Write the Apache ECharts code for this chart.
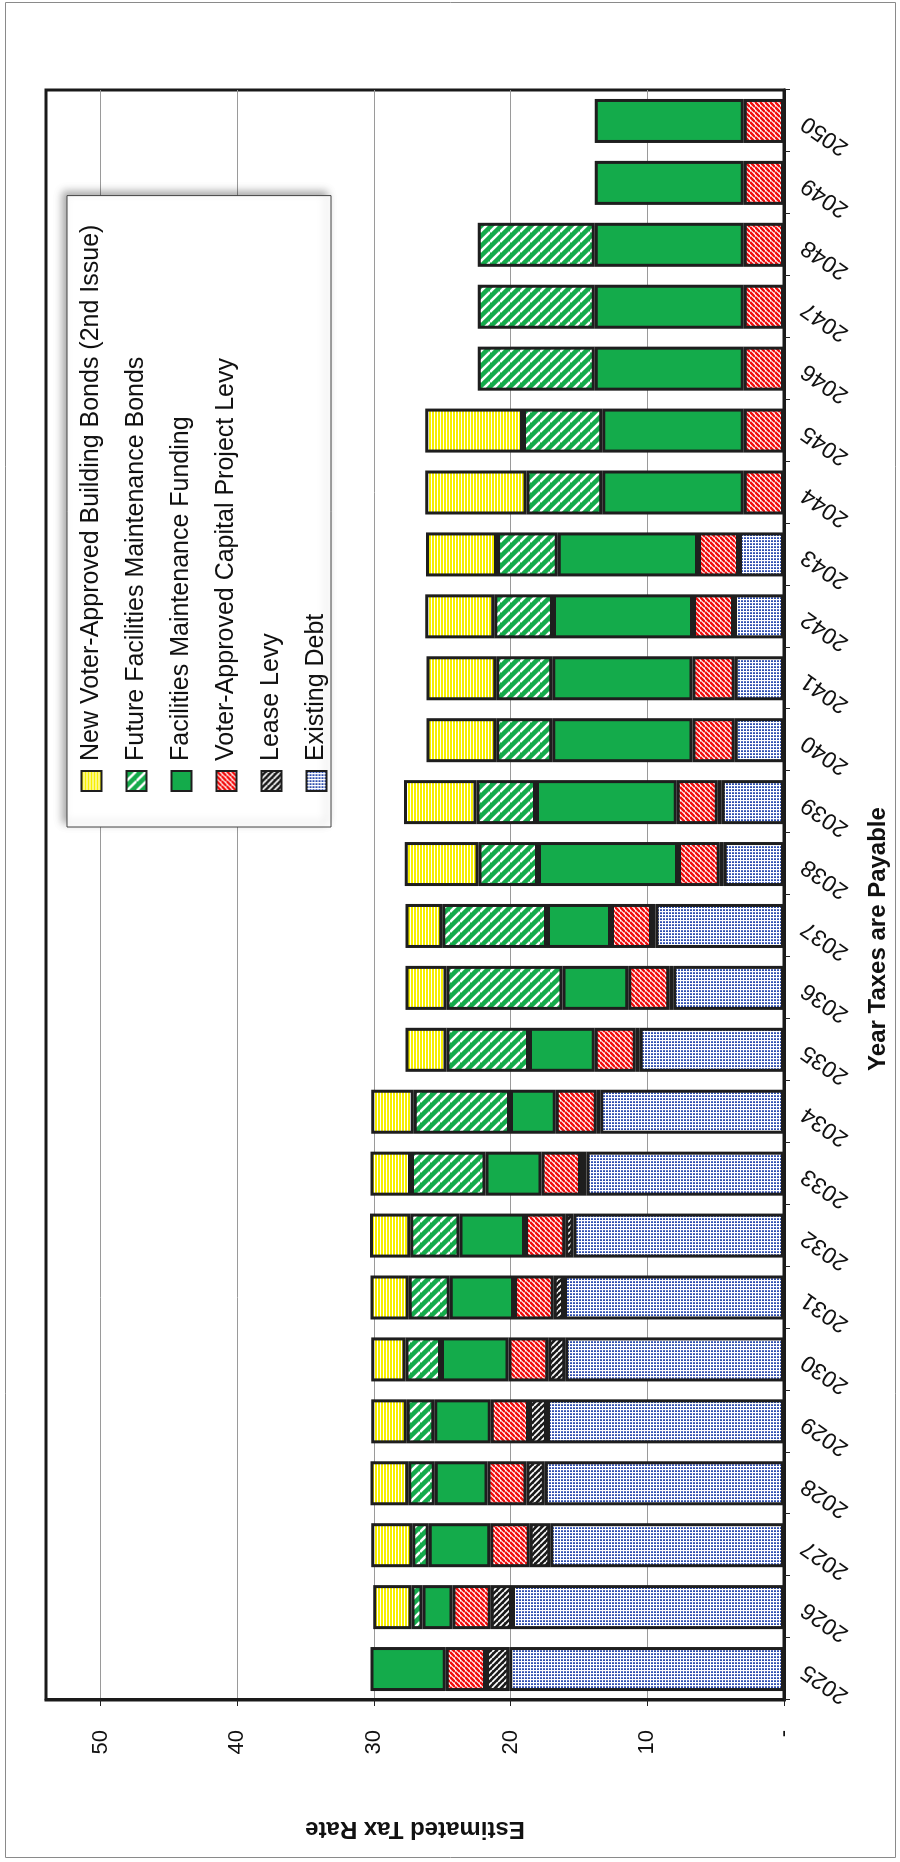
<!DOCTYPE html>
<html>
<head>
<meta charset="utf-8">
<script src="https://cdn.jsdelivr.net/npm/echarts@6/dist/echarts.min.js"></script>
<style>
  html, body { margin: 0; padding: 0; background: #fff; overflow: hidden; }
  /* chart is drawn landscape, then turned a quarter turn to stand on its side */
  #wrap {
    position: absolute; left: 0; top: 0;
    width: 1862px; height: 900px;
    transform-origin: 0 0;
    transform: translate(0, 1862px) rotate(-90deg);
  }
</style>
</head>
<body>
<div id="wrap"></div>
<script>
var years = ['2025', '2026', '2027', '2028', '2029', '2030', '2031', '2032', '2033', '2034', '2035', '2036', '2037',
  '2038', '2039', '2040', '2041', '2042', '2043', '2044', '2045', '2046', '2047', '2048', '2049', '2050']

var existingDebt = [20.1, 19.9, 17.1, 17.5, 17.35, 16.0, 16.1, 15.4, 14.45, 13.45, 10.55, 8.1, 9.4,
  4.4, 4.55, 3.6, 3.6, 3.65, 3.3, null, null, null, null, null, null, null]
var leaseLevy = [1.7, 1.55, 1.5, 1.35, 1.3, 1.25, 0.75, 0.6, 0.4, 0.25, 0.3, 0.3, 0.25,
  0.3, 0.3, null, null, null, null, null, null, null, null, null, null, null]
var capitalLevy = [2.95, 2.8, 2.9, 2.85, 2.8, 2.9, 2.9, 2.95, 2.9, 3.0, 3.0, 3.0, 3.0,
  3.05, 3.0, 3.1, 3.1, 3.0, 3.0, 2.95, 2.95, 2.95, 2.95, 2.95, 2.95, 2.95]
var maintFunding = [5.5, 2.2, 4.5, 3.85, 4.15, 4.95, 4.7, 4.8, 4.1, 3.35, 4.8, 4.8, 4.7,
  10.25, 10.3, 10.25, 10.25, 10.25, 10.25, 10.35, 10.35, 10.9, 10.9, 10.9, 10.9, 10.9]
var futureMaintBonds = [null, 0.8, 1.2, 1.95, 2.0, 2.6, 3.0, 3.6, 5.45, 7.05, 6.05, 8.5, 7.65,
  4.35, 4.35, 4.1, 4.1, 4.3, 4.45, 5.55, 5.8, 8.55, 8.55, 8.55, null, null]
var newBuildingBonds = [null, 2.8, 3.0, 2.75, 2.6, 2.5, 2.8, 2.95, 2.95, 3.1, 3.0, 3.0, 2.7,
  5.4, 5.3, 5.1, 5.1, 5.05, 5.2, 7.4, 7.15, null, null, null, null, null]

var valueTicks = [0, 10, 20, 30, 40, 50]

var FONT = '"Liberation Sans", Arial, sans-serif'

// small canvas tiles for the fill patterns
function tile(w, h, draw) {
  var c = document.createElement('canvas')
  c.width = w
  c.height = h
  draw(c.getContext('2d'), w, h)
  return { image: c, repeat: 'repeat' }
}

function diag(bg, fg, s, lw, dir) {
  return tile(s, s, function (ctx) {
    ctx.fillStyle = bg
    ctx.fillRect(0, 0, s, s)
    ctx.strokeStyle = fg
    ctx.lineWidth = lw
    for (var k = -1; k <= 1; k++) {
      ctx.beginPath()
      if (dir === '\\') {
        ctx.moveTo(k * s, 0)
        ctx.lineTo(k * s + s, s)
      } else {
        ctx.moveTo(k * s, s)
        ctx.lineTo(k * s + s, 0)
      }
      ctx.stroke()
    }
  })
}

var yellowFill = tile(3, 3, function (ctx) {
  ctx.fillStyle = '#ffffff'
  ctx.fillRect(0, 0, 3, 3)
  ctx.fillStyle = '#f7ef00'
  ctx.fillRect(0, 0, 3, 2)
})
var greenHatch = diag('#14ab4b', '#ffffff', 10, 2.6, '\\')
var redHatch = diag('#ffffff', '#f20d0d', 5, 2.4, '/')
var blackHatch = diag('#1a1a1a', '#ffffff', 6, 1.6, '\\')
var dotFill = tile(3, 3, function (ctx) {
  ctx.fillStyle = '#ffffff'
  ctx.fillRect(0, 0, 3, 3)
  ctx.fillStyle = '#2f4fae'
  ctx.fillRect(0, 0, 1, 2)
  ctx.fillStyle = '#6077c4'
  ctx.fillRect(1, 0, 1, 2)
})

var border = { borderColor: '#1e1e1e', borderWidth: 3 }

function bar(name, data, fill) {
  return {
    name: name,
    type: 'bar',
    stack: 'rate',
    barWidth: 44,
    data: data,
    itemStyle: Object.assign({ color: fill }, border)
  }
}

var chart = echarts.init(document.getElementById('wrap'), null, { width: 1862, height: 900 })

chart.setOption({
  animation: false,
  backgroundColor: '#ffffff',
  textStyle: { fontFamily: FONT },
  graphic: [{
    type: 'rect',
    shape: { x: 4.5, y: 5.5, width: 1855, height: 890 },
    style: { fill: 'none', stroke: '#8a8a8a', lineWidth: 1 },
    silent: true
  }],
  grid: {
    left: 162,
    right: 90,
    top: 46,
    bottom: 116,
    show: true,
    borderColor: '#1a1a1a',
    borderWidth: 3,
    backgroundColor: '#ffffff'
  },
  legend: {
    orient: 'vertical',
    left: 1035,
    top: 67,
    padding: [12, 29, 2, 35],
    itemWidth: 20,
    itemHeight: 20,
    itemGap: 20,
    icon: 'rect',
    backgroundColor: '#ffffff',
    borderColor: '#444',
    borderWidth: 1,
    shadowColor: 'rgba(0,0,0,0.35)',
    shadowBlur: 8,
    shadowOffsetX: 4,
    shadowOffsetY: -4,
    textStyle: { fontSize: 25, color: '#111', fontFamily: FONT, padding: [0, 0, 0, 5] },
    data: [
      'New Voter-Approved Building Bonds (2nd Issue)',
      'Future Facilities Maintenance Bonds',
      'Facilities Maintenance Funding',
      'Voter-Approved Capital Project Levy',
      'Lease Levy',
      'Existing Debt'
    ]
  },
  xAxis: {
    type: 'category',
    data: years,
    axisLine: { show: true, lineStyle: { color: '#1a1a1a', width: 3 } },
    axisTick: { show: true, length: 6, lineStyle: { color: '#222', width: 1 } },
    axisLabel: {
      interval: 0,
      rotate: 55,
      margin: 20,
      fontSize: 23,
      color: '#111',
      fontFamily: FONT
    },
    name: 'Year Taxes are Payable',
    nameLocation: 'middle',
    nameGap: 82,
    nameTextStyle: { fontSize: 24, fontWeight: 'bold', color: '#111', fontFamily: FONT, padding: [0, 88, 0, 0] }
  },
  yAxis: {
    type: 'value',
    min: 0,
    max: 54,
    interval: 10,
    axisLine: { show: true, lineStyle: { color: '#1a1a1a', width: 3 } },
    axisTick: { show: true, length: 6, lineStyle: { color: '#222', width: 1 }, customValues: valueTicks },
    axisLabel: {
      customValues: valueTicks,
      margin: 30,
      fontSize: 22,
      color: '#111',
      fontFamily: FONT,
      formatter: function (v) { return v === 0 ? '-' : String(v) }
    },
    splitLine: { show: true, lineStyle: { color: '#9a9a9a', width: 1 } },
    name: 'Estimated Tax Rate',
    nameLocation: 'middle',
    nameGap: 117,
    nameTextStyle: { fontSize: 24, fontWeight: 'bold', color: '#111', fontFamily: FONT }
  },
  series: [
    bar('Existing Debt', existingDebt, dotFill),
    bar('Lease Levy', leaseLevy, blackHatch),
    bar('Voter-Approved Capital Project Levy', capitalLevy, redHatch),
    bar('Facilities Maintenance Funding', maintFunding, '#14ab4b'),
    bar('Future Facilities Maintenance Bonds', futureMaintBonds, greenHatch),
    bar('New Voter-Approved Building Bonds (2nd Issue)', newBuildingBonds, yellowFill)
  ]
})
</script>
</body>
</html>
